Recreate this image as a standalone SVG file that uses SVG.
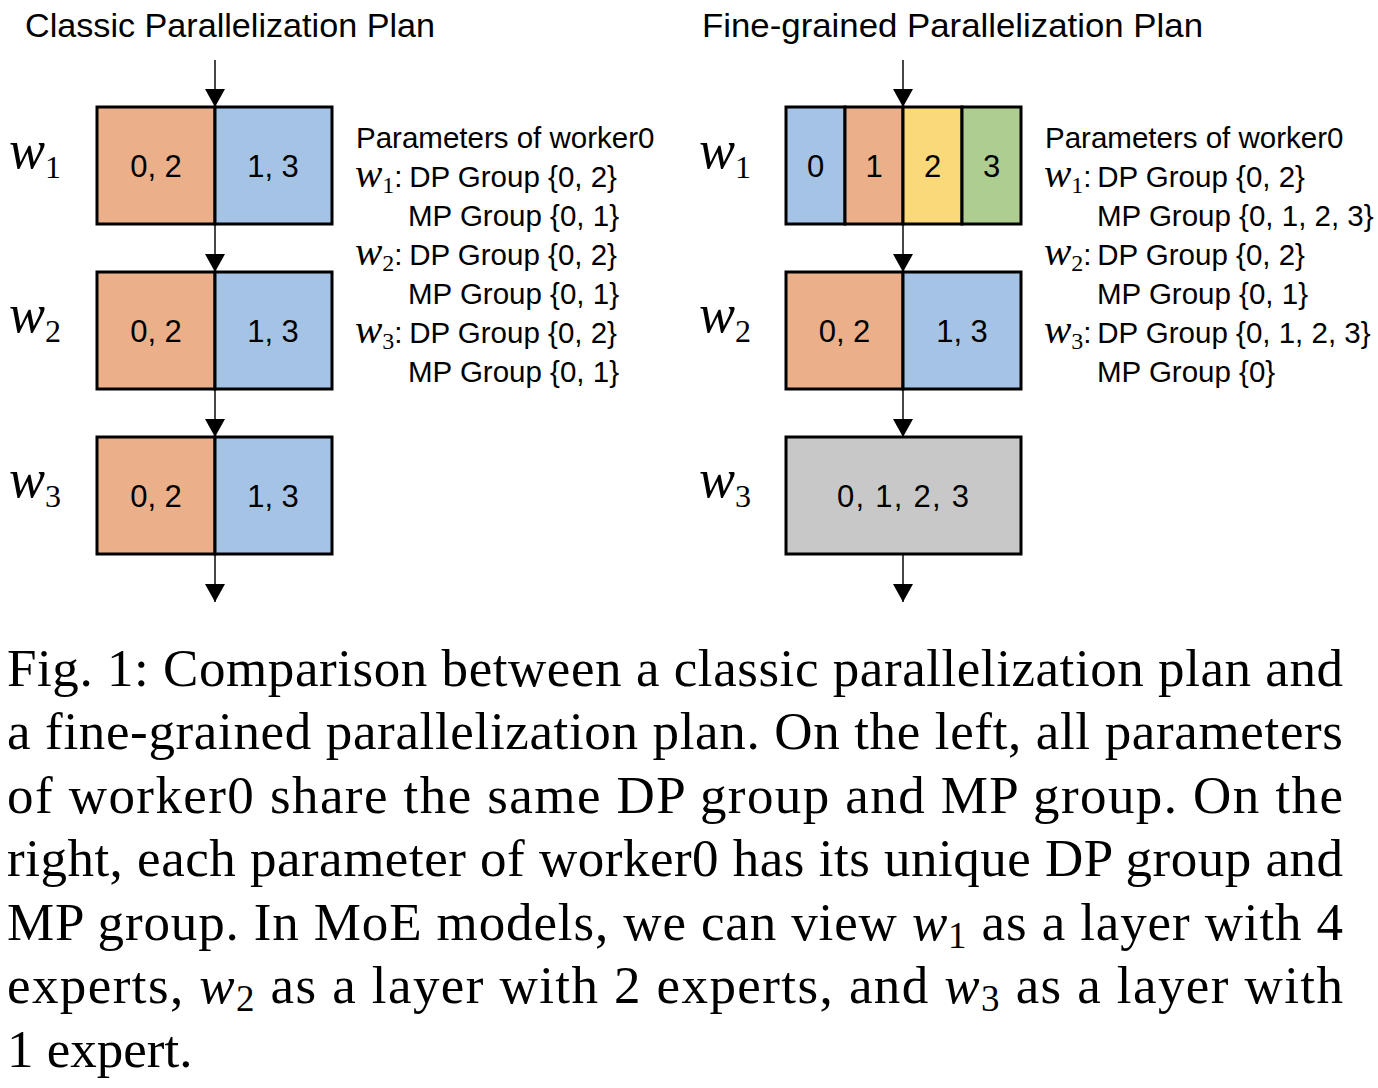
<svg xmlns="http://www.w3.org/2000/svg" width="1378" height="1088" viewBox="0 0 1378 1088">
<style>
.title{font-family:"Liberation Sans",Arial,sans-serif;font-size:34px;fill:#000}
.cell{font-family:"Liberation Sans",Arial,sans-serif;font-size:31px;fill:#000;text-anchor:middle}
.param{font-family:"Liberation Sans",Arial,sans-serif;font-size:29.5px;fill:#000}
.mw{font-family:"Liberation Serif","Times New Roman",serif;font-style:italic}
.wl{font-family:"Liberation Serif","Times New Roman",serif;font-size:54px;fill:#000}
.sub{font-family:"Liberation Serif","Times New Roman",serif;font-style:normal}
.cap{font-family:"Liberation Serif","Times New Roman",serif;font-size:53px;fill:#000}
.box{stroke:#000;stroke-width:3}
.or{fill:#EBB089}.bl{fill:#A5C3E5}.ye{fill:#F9D97A}.gr{fill:#AECD90}.gy{fill:#C8C8C8}
.conn line{stroke:#333;stroke-width:1.8;marker-end:url(#ah)}
</style>
<defs>
<marker id="ah" markerUnits="userSpaceOnUse" markerWidth="18" markerHeight="20" viewBox="0 0 18 20" refX="18" refY="10" orient="auto">
<path d="M0,0 L18,10 L0,20 z" fill="#000"/>
</marker>
</defs>
<rect width="1378" height="1088" fill="#fff"/>

<text class="title" x="25" y="37" textLength="410" lengthAdjust="spacingAndGlyphs">Classic Parallelization Plan</text>
<text class="title" x="702" y="37" textLength="501" lengthAdjust="spacingAndGlyphs">Fine-grained Parallelization Plan</text>

<g class="conn" id="connectors">
<line x1="215" y1="60" x2="215" y2="107"/>
<line x1="215" y1="224" x2="215" y2="272"/>
<line x1="215" y1="389" x2="215" y2="437"/>
<line x1="215" y1="554" x2="215" y2="602"/>
<line x1="903" y1="60" x2="903" y2="107"/>
<line x1="903" y1="224" x2="903" y2="272"/>
<line x1="903" y1="389" x2="903" y2="437"/>
<line x1="903" y1="554" x2="903" y2="602"/>
</g>

<g id="left-w1">
<text class="wl" x="9" y="168"><tspan class="mw">w</tspan><tspan class="sub" font-size="32" dy="10">1</tspan></text>
<rect class="box or" x="97" y="107" width="118" height="117"/>
<rect class="box bl" x="215" y="107" width="117" height="117"/>
<text class="cell" x="156" y="177">0, 2</text>
<text class="cell" x="273" y="177">1, 3</text>
</g>
<g id="left-w2">
<text class="wl" x="9" y="332"><tspan class="mw">w</tspan><tspan class="sub" font-size="32" dy="10">2</tspan></text>
<rect class="box or" x="97" y="272" width="118" height="117"/>
<rect class="box bl" x="215" y="272" width="117" height="117"/>
<text class="cell" x="156" y="342">0, 2</text>
<text class="cell" x="273" y="342">1, 3</text>
</g>
<g id="left-w3">
<text class="wl" x="9" y="497"><tspan class="mw">w</tspan><tspan class="sub" font-size="32" dy="10">3</tspan></text>
<rect class="box or" x="97" y="437" width="118" height="117"/>
<rect class="box bl" x="215" y="437" width="117" height="117"/>
<text class="cell" x="156" y="507">0, 2</text>
<text class="cell" x="273" y="507">1, 3</text>
</g>

<g id="left-params" class="param">
<text x="356" y="148">Parameters of worker0</text>
<text x="355" y="187"><tspan class="mw" font-size="41">w</tspan><tspan class="sub" font-size="24" dy="6">1</tspan><tspan dy="-6">:</tspan><tspan x="401"> DP Group {0, 2}</tspan></text>
<text x="408" y="226">MP Group {0, 1}</text>
<text x="355" y="265"><tspan class="mw" font-size="41">w</tspan><tspan class="sub" font-size="24" dy="6">2</tspan><tspan dy="-6">:</tspan><tspan x="401"> DP Group {0, 2}</tspan></text>
<text x="408" y="304">MP Group {0, 1}</text>
<text x="355" y="343"><tspan class="mw" font-size="41">w</tspan><tspan class="sub" font-size="24" dy="6">3</tspan><tspan dy="-6">:</tspan><tspan x="401"> DP Group {0, 2}</tspan></text>
<text x="408" y="382">MP Group {0, 1}</text>
</g>

<g id="right-w1">
<text class="wl" x="699" y="168"><tspan class="mw">w</tspan><tspan class="sub" font-size="32" dy="10">1</tspan></text>
<rect class="box bl" x="786" y="107" width="59" height="117"/>
<rect class="box or" x="845" y="107" width="58" height="117"/>
<rect class="box ye" x="903" y="107" width="59" height="117"/>
<rect class="box gr" x="962" y="107" width="59" height="117"/>
<text class="cell" x="815.5" y="177">0</text>
<text class="cell" x="874" y="177">1</text>
<text class="cell" x="932.5" y="177">2</text>
<text class="cell" x="991.5" y="177">3</text>
</g>
<g id="right-w2">
<text class="wl" x="699" y="332"><tspan class="mw">w</tspan><tspan class="sub" font-size="32" dy="10">2</tspan></text>
<rect class="box or" x="786" y="272" width="117" height="117"/>
<rect class="box bl" x="903" y="272" width="118" height="117"/>
<text class="cell" x="844.5" y="342">0, 2</text>
<text class="cell" x="962" y="342">1, 3</text>
</g>
<g id="right-w3">
<text class="wl" x="699" y="497"><tspan class="mw">w</tspan><tspan class="sub" font-size="32" dy="10">3</tspan></text>
<rect class="box gy" x="786" y="437" width="235" height="117"/>
<text class="cell" x="903" y="507" textLength="132" lengthAdjust="spacing">0, 1, 2, 3</text>
</g>

<g id="right-params" class="param">
<text x="1045" y="148">Parameters of worker0</text>
<text x="1044" y="187"><tspan class="mw" font-size="41">w</tspan><tspan class="sub" font-size="24" dy="6">1</tspan><tspan dy="-6">:</tspan><tspan x="1089"> DP Group {0, 2}</tspan></text>
<text x="1097" y="226">MP Group {0, 1, 2, 3}</text>
<text x="1044" y="265"><tspan class="mw" font-size="41">w</tspan><tspan class="sub" font-size="24" dy="6">2</tspan><tspan dy="-6">:</tspan><tspan x="1089"> DP Group {0, 2}</tspan></text>
<text x="1097" y="304">MP Group {0, 1}</text>
<text x="1044" y="343"><tspan class="mw" font-size="41">w</tspan><tspan class="sub" font-size="24" dy="6">3</tspan><tspan dy="-6">:</tspan><tspan x="1089"> DP Group {0, 1, 2, 3}</tspan></text>
<text x="1097" y="382">MP Group {0}</text>
</g>

<g id="caption" class="cap">
<text x="7" y="686" textLength="1336" lengthAdjust="spacing">Fig. 1: Comparison between a classic parallelization plan and</text>
<text x="7" y="749" textLength="1336" lengthAdjust="spacing">a fine-grained parallelization plan. On the left, all parameters</text>
<text x="7" y="813" textLength="1336" lengthAdjust="spacing">of worker0 share the same DP group and MP group. On the</text>
<text x="7" y="876" textLength="1336" lengthAdjust="spacing">right, each parameter of worker0 has its unique DP group and</text>
<text x="7" y="940" textLength="1336" lengthAdjust="spacing">MP group. In MoE models, we can view <tspan class="mw">w</tspan><tspan font-size="37" dy="8">1</tspan><tspan dy="-8"> as a layer with 4</tspan></text>
<text x="7" y="1003" textLength="1336" lengthAdjust="spacing">experts, <tspan class="mw">w</tspan><tspan font-size="37" dy="8">2</tspan><tspan dy="-8"> as a layer with 2 experts, and </tspan><tspan class="mw">w</tspan><tspan font-size="37" dy="8">3</tspan><tspan dy="-8"> as a layer with</tspan></text>
<text x="7" y="1067">1 expert.</text>
</g>
</svg>
